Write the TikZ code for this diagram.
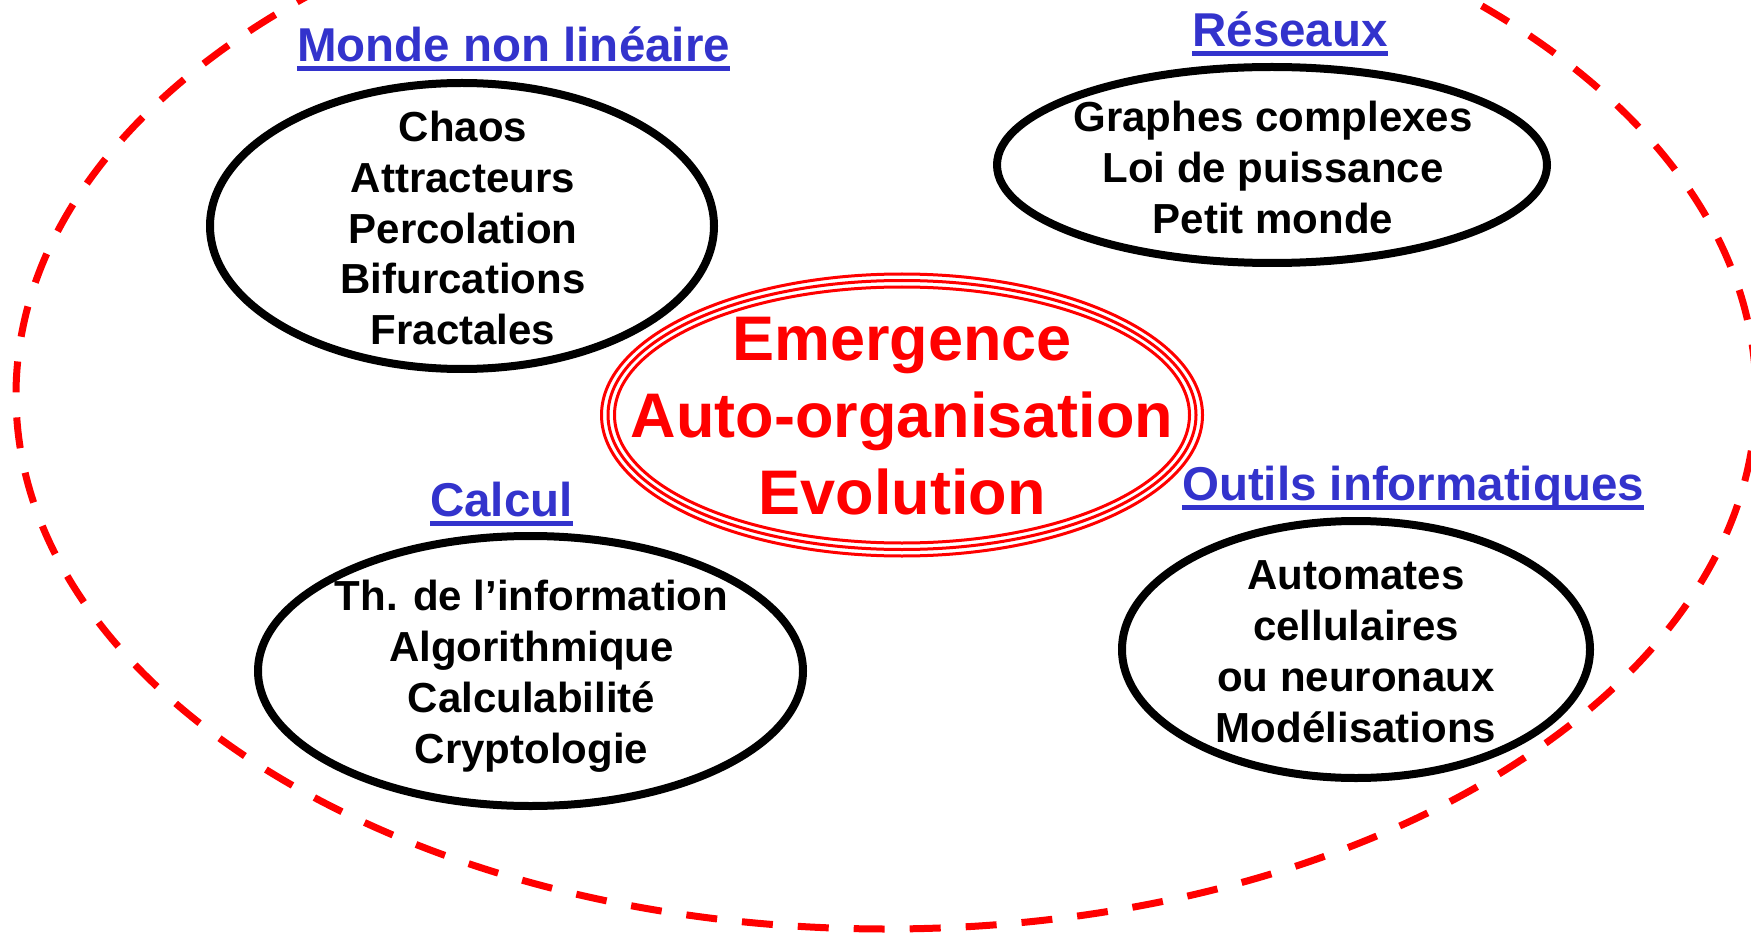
\documentclass[tikz,border=0pt]{standalone}
\usepackage{fontspec}
\setmainfont{Liberation Sans}
\usetikzlibrary{shapes.geometric}
\definecolor{headblue}{RGB}{51,51,204}
% strut giving every line the same height and depth (cap-centred)
\newcommand\lstrut{\rule[-0.242em]{0pt}{1.2em}}

\begin{document}
\begin{tikzpicture}[x=1pt,y=-1pt,
  ring/.style={draw, ellipse, line width=8pt, inner sep=0pt},
  topic/.style={align=center, inner sep=0pt,
    font=\fontsize{42}{50.8}\selectfont\bfseries},
  core/.style={align=center, inner sep=0pt, text=red,
    font=\fontsize{63}{75.4}\selectfont\bfseries},
  heading/.style={inner sep=0pt, anchor=base, text=headblue,
    font=\fontsize{47.5}{57}\selectfont\bfseries},
  uline/.style={draw=headblue, line width=5pt},
  coreline/.style={draw=red, line width=3pt},
  frontier/.style={draw=red, line width=7pt, dash pattern=on 31pt off 25pt},
]
\useasboundingbox (0,0) rectangle (1751,933);

% large dashed boundary
\coordinate (field) at (886,395);
\begin{scope}
  \clip (0,0) rectangle (1751,933);
  \path[frontier] (field) ellipse [x radius=870, y radius=534];
\end{scope}

% central triple ellipse
\node[core] (hub) at (902,415)
  {\lstrut Emergence\\\lstrut Auto-organisation\\\lstrut Evolution};
\draw[coreline] (hub.center) ellipse [x radius=300.5, y radius=141];
\draw[coreline] (hub.center) ellipse [x radius=294, y radius=134.5];
\draw[coreline] (hub.center) ellipse [x radius=287.5, y radius=128];

% Monde non lineaire
\node[heading] (hnl) at (513.5,62) {Monde non linéaire};
\draw[uline] ([yshift=-7pt]hnl.base west) -- ([yshift=-7pt]hnl.base east);
\node[ring, minimum width=504pt, minimum height=286pt] (enl) at (462,226) {};
\node[topic] (tnl) at (463,228)
  {\lstrut Chaos\\\lstrut Attracteurs\\\lstrut Percolation\\\lstrut Bifurcations\\\lstrut Fractales};

% Reseaux
\node[heading] (hres) at (1290,47) {Réseaux};
\draw[uline] ([yshift=-7pt]hres.base west) -- ([yshift=-7pt]hres.base east);
\node[ring, minimum width=550pt, minimum height=196pt] (eres) at (1272,165) {};
\node[topic] (tres) at (1273,167.5)
  {\lstrut Graphes complexes\\\lstrut Loi de puissance\\\lstrut Petit monde};

% Calcul
\node[heading] (hcal) at (501.5,516) {Calcul};
\draw[uline] ([yshift=-7pt]hcal.base west) -- ([yshift=-7pt]hcal.base east);
\node[ring, minimum width=545pt, minimum height=270pt] (ecal) at (530.5,671) {};
\node[topic] (tcal) at (531.5,672)
  {\lstrut Th. de l’information\\\lstrut Algorithmique\\\lstrut Calculabilité\\\lstrut Cryptologie};

% Outils informatiques
\node[heading] (hout) at (1413,500) {Outils informatiques};
\draw[uline] ([yshift=-7pt]hout.base west) -- ([yshift=-7pt]hout.base east);
\node[ring, minimum width=468pt, minimum height=257pt] (eout) at (1356,649.5) {};
\node[topic] (tout) at (1356,651)
  {\lstrut Automates\\\lstrut cellulaires\\\lstrut ou neuronaux\\\lstrut Modélisations};
\end{tikzpicture}
\end{document}
